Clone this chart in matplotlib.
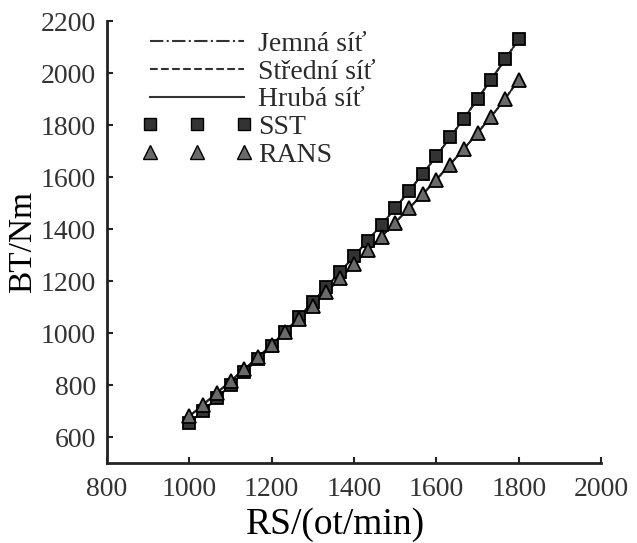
import matplotlib
matplotlib.use("Agg")
import matplotlib.pyplot as plt
from matplotlib.lines import Line2D

# otáčky (ot/min)
rs = [1000, 1033, 1067, 1100, 1133, 1167, 1200, 1233, 1267, 1300, 1333, 1367, 1400,
      1433, 1467, 1500, 1533, 1567, 1600, 1633, 1667, 1700, 1733, 1767, 1800]

# brzdny moment (Nm)
bt_sst = [655, 700, 750, 800, 850, 900, 950, 1005, 1062, 1120, 1178, 1236, 1295,
          1355, 1417, 1480, 1545, 1612, 1680, 1752, 1825, 1900, 1975, 2052, 2130]
bt_rans = [680, 724, 770, 815, 860, 907, 955, 1004, 1054, 1105, 1158, 1211, 1265,
           1318, 1371, 1425, 1479, 1534, 1590, 1648, 1708, 1770, 1832, 1900, 1975]

site = ["Jemná síť", "Střední síť", "Hrubá síť"]
styly = ["-.", "--", "-"]

plt.rcParams["font.family"] = ["Liberation Serif", "DejaVu Serif"]
plt.rcParams["text.color"] = "#2a2a2a"

fig = plt.figure(figsize=(6.37, 5.43), dpi=100)
ax = fig.add_axes([0.168, 0.1473, 0.7755, 0.8140])

# car pro kazdou sit
for st in styly:
    ax.plot(rs, bt_sst, color="#222222", linestyle=st, linewidth=1.3)
    ax.plot(rs, bt_rans, color="#222222", linestyle=st, linewidth=1.3)

ax.plot(rs, bt_sst, linestyle="none", marker="s", markersize=8.5,
        markerfacecolor="#333333", markeredgecolor="black", markeredgewidth=1.3)
ax.plot(rs, bt_rans, linestyle="none", marker="^", markersize=10,
        markerfacecolor="#6a6a6a", markeredgecolor="black", markeredgewidth=1.3)

ax.set_xlim(800, 2000)
ax.set_ylim(500, 2200)
ax.set_xticks(range(800, 2001, 200))
ax.set_yticks(range(600, 2201, 200))
ax.tick_params(direction="in", length=4, width=1.5, labelsize=20, colors="#222222",
               labelcolor="#333333")
ax.tick_params(axis="y", pad=8)
ax.tick_params(axis="x", pad=10)
ax.spines["top"].set_visible(False)
ax.spines["right"].set_visible(False)
for s in ["left", "bottom"]:
    ax.spines[s].set_linewidth(2)
    ax.spines[s].set_color("#222222")

ax.set_xlabel("RS/(ot/min)", fontsize=27, va="center")
ax.xaxis.set_label_coords(0.463, -0.14)
ax.set_ylabel("BT/Nm", fontsize=24, va="center")
ax.yaxis.set_label_coords(-0.17, 0.5)

handles = [Line2D([], [], color="#333333", linestyle=st, linewidth=1.5) for st in styly]
handles.append(Line2D([], [], linestyle="none", marker="s", markersize=8.5,
                      markerfacecolor="#333333", markeredgecolor="black"))
handles.append(Line2D([], [], linestyle="none", marker="^", markersize=10,
                      markerfacecolor="#6a6a6a", markeredgecolor="black"))
ax.legend(handles, site + ["SST", "RANS"], loc="upper left",
          bbox_to_anchor=(0.03, 1.02), frameon=False, fontsize=20, numpoints=3,
          handlelength=4.0, handletextpad=0.2, labelspacing=0.08, borderpad=0.2)

fig.savefig("out.png", dpi=100)
